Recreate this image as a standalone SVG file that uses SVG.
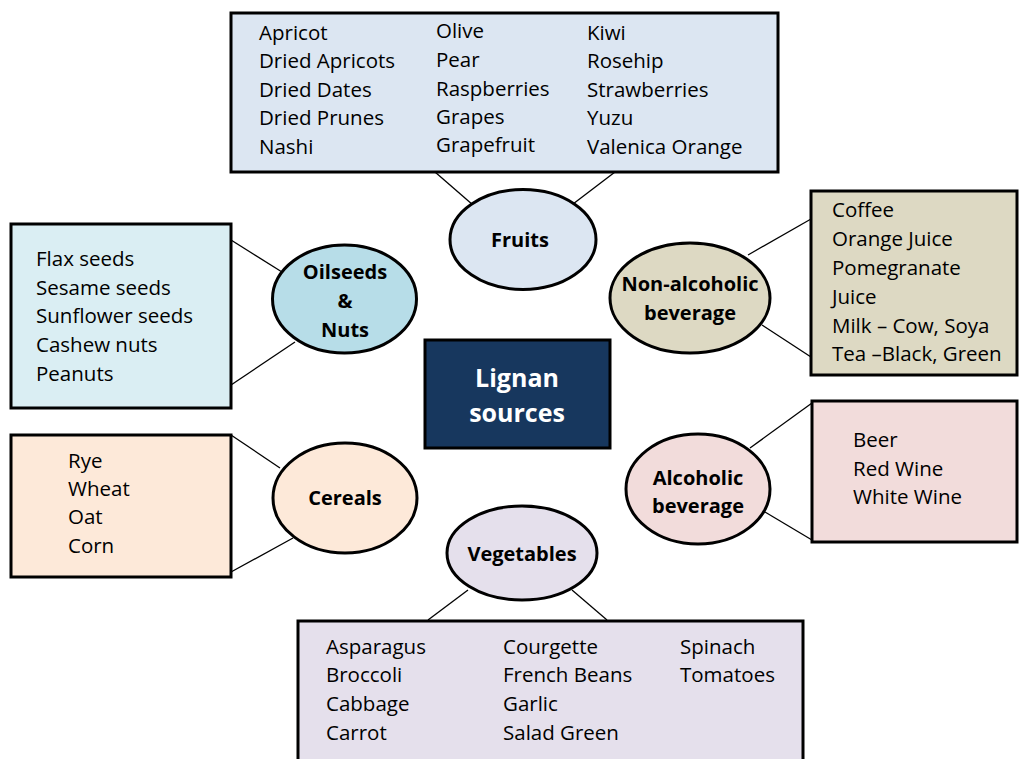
<svg xmlns="http://www.w3.org/2000/svg" width="1019" height="759" viewBox="0 0 1019 759">
<style>
.box{stroke:#000;stroke-width:3}
.ell{stroke:#000;stroke-width:3}
.t{font-family:"Open Sans","Liberation Sans",sans-serif;font-size:20.5px;fill:#000}
.b{font-family:"Open Sans","Liberation Sans",sans-serif;font-size:20px;font-weight:bold;fill:#000;text-anchor:middle}
.c{font-family:"Open Sans","Liberation Sans",sans-serif;font-size:25px;font-weight:bold;fill:#fff;text-anchor:middle}
.ln{stroke:#000;stroke-width:1.3;fill:none}
</style>
<rect width="1019" height="759" fill="#fff"/>
<g id="connectors">
<line class="ln" x1="435" y1="172" x2="473" y2="205"/>
<line class="ln" x1="615" y1="172" x2="573" y2="204"/>
<line class="ln" x1="231" y1="240" x2="282" y2="272"/>
<line class="ln" x1="231" y1="385" x2="295" y2="342"/>
<line class="ln" x1="811" y1="219" x2="748" y2="255"/>
<line class="ln" x1="811" y1="357" x2="762" y2="325"/>
<line class="ln" x1="812" y1="403" x2="750" y2="448"/>
<line class="ln" x1="812" y1="540" x2="765" y2="512"/>
<line class="ln" x1="231" y1="435" x2="280" y2="468"/>
<line class="ln" x1="231" y1="572" x2="293" y2="538"/>
<line class="ln" x1="428" y1="620" x2="468" y2="590"/>
<line class="ln" x1="607" y1="620" x2="572" y2="590"/>
</g>
<g id="fruits-list">
<rect class="box" x="231" y="13" width="547" height="159" fill="#DCE6F2"/>
<text class="t" x="259" y="40">Apricot</text>
<text class="t" x="259" y="68">Dried Apricots</text>
<text class="t" x="259" y="97">Dried Dates</text>
<text class="t" x="259" y="125">Dried Prunes</text>
<text class="t" x="259" y="154">Nashi</text>
<text class="t" x="436" y="38">Olive</text>
<text class="t" x="436" y="67">Pear</text>
<text class="t" x="436" y="96">Raspberries</text>
<text class="t" x="436" y="124">Grapes</text>
<text class="t" x="436" y="152">Grapefruit</text>
<text class="t" x="587" y="40">Kiwi</text>
<text class="t" x="587" y="68">Rosehip</text>
<text class="t" x="587" y="97">Strawberries</text>
<text class="t" x="587" y="125">Yuzu</text>
<text class="t" x="587" y="154">Valenica Orange</text>
</g>
<g id="fruits">
<ellipse class="ell" cx="523" cy="239.5" rx="73" ry="50" fill="#DCE6F2"/>
<text class="b" x="520" y="247">Fruits</text>
</g>
<g id="oilseeds-list">
<rect class="box" x="11" y="224" width="220" height="184" fill="#DAEEF3"/>
<text class="t" x="36" y="266">Flax seeds</text>
<text class="t" x="36" y="295">Sesame seeds</text>
<text class="t" x="36" y="323">Sunflower seeds</text>
<text class="t" x="36" y="352">Cashew nuts</text>
<text class="t" x="36" y="381">Peanuts</text>
</g>
<g id="oilseeds">
<ellipse class="ell" cx="344.5" cy="299" rx="72" ry="54" fill="#B7DDE8"/>
<text class="b" x="345" y="279">Oilseeds</text>
<text class="b" x="345" y="308">&amp;</text>
<text class="b" x="345" y="337">Nuts</text>
</g>
<g id="nonalcoholic-list">
<rect class="box" x="811" y="191" width="206" height="184" fill="#DDD9C3"/>
<text class="t" x="832" y="217">Coffee</text>
<text class="t" x="832" y="246">Orange Juice</text>
<text class="t" x="832" y="275">Pomegranate</text>
<text class="t" x="832" y="304">Juice</text>
<text class="t" x="832" y="333">Milk – Cow, Soya</text>
<text class="t" x="832" y="361">Tea –Black, Green</text>
</g>
<g id="nonalcoholic">
<ellipse class="ell" cx="690" cy="298" rx="80" ry="55" fill="#DDD9C3"/>
<text class="b" x="690" y="291">Non-alcoholic</text>
<text class="b" x="690" y="320">beverage</text>
</g>
<g id="center">
<rect class="box" x="425" y="340" width="185" height="108" fill="#17375E"/>
<text class="c" x="517" y="387">Lignan</text>
<text class="c" x="517" y="422">sources</text>
</g>
<g id="alcoholic-list">
<rect class="box" x="812" y="401" width="205" height="141" fill="#F2DCDB"/>
<text class="t" x="853" y="447">Beer</text>
<text class="t" x="853" y="476">Red Wine</text>
<text class="t" x="853" y="504">White Wine</text>
</g>
<g id="alcoholic">
<ellipse class="ell" cx="698" cy="489" rx="72" ry="55" fill="#F2DCDB"/>
<text class="b" x="698" y="485">Alcoholic</text>
<text class="b" x="698" y="513">beverage</text>
</g>
<g id="cereals-list">
<rect class="box" x="11" y="435" width="220" height="142" fill="#FDE9D9"/>
<text class="t" x="68" y="468">Rye</text>
<text class="t" x="68" y="496">Wheat</text>
<text class="t" x="68" y="524">Oat</text>
<text class="t" x="68" y="553">Corn</text>
</g>
<g id="cereals">
<ellipse class="ell" cx="345" cy="498" rx="72" ry="55" fill="#FDE9D9"/>
<text class="b" x="345" y="505">Cereals</text>
</g>
<g id="vegetables">
<ellipse class="ell" cx="522" cy="553" rx="75" ry="47" fill="#E5E0EC"/>
<text class="b" x="522" y="561">Vegetables</text>
</g>
<g id="vegetables-list">
<rect class="box" x="298" y="621" width="505" height="145" fill="#E5E0EC"/>
<text class="t" x="326" y="654">Asparagus</text>
<text class="t" x="326" y="682">Broccoli</text>
<text class="t" x="326" y="711">Cabbage</text>
<text class="t" x="326" y="740">Carrot</text>
<text class="t" x="503" y="654">Courgette</text>
<text class="t" x="503" y="682">French Beans</text>
<text class="t" x="503" y="711">Garlic</text>
<text class="t" x="503" y="740">Salad Green</text>
<text class="t" x="680" y="654">Spinach</text>
<text class="t" x="680" y="682">Tomatoes</text>
</g>
</svg>
